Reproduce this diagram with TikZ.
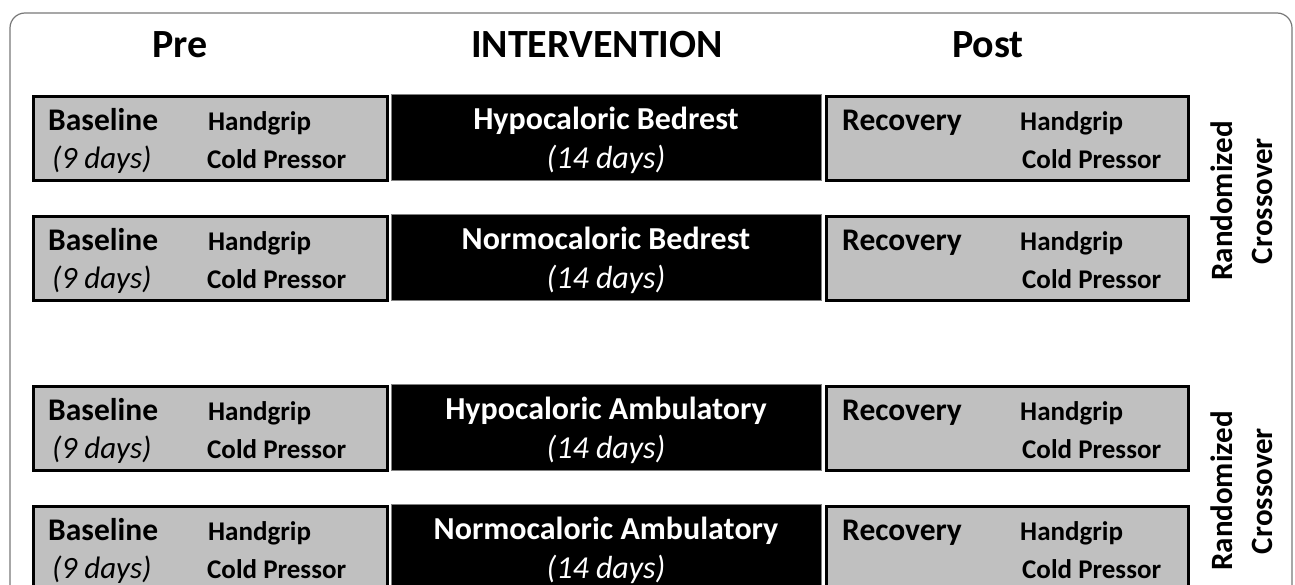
\documentclass[tikz,border=0pt]{standalone}
\usepackage{fontspec}
\setmainfont{Carlito}
\usepackage{tikz}
\usetikzlibrary{positioning}
\definecolor{boxgray}{RGB}{192,192,192}
\definecolor{framegray}{RGB}{120,120,120}
\tikzstyle{phase} = [rectangle, draw=black, line width=3pt, fill=boxgray, minimum height=84pt, inner sep=0pt, anchor=north west]
\tikzstyle{treat} = [rectangle, draw=gray, line width=1pt, fill=black, text=white, minimum width=430pt, minimum height=86pt, anchor=north west, align=center, font=\fontsize{32}{39}\selectfont]
\tikzstyle{head} = [font=\fontsize{40}{42}\selectfont\bfseries, inner sep=0pt, anchor=base]
\tikzstyle{phasename} = [font=\fontsize{31.5}{36}\selectfont\bfseries, inner sep=0pt, anchor=base west]
\tikzstyle{days} = [font=\fontsize{31}{36}\selectfont\itshape, inner sep=0pt, anchor=base west]
\tikzstyle{task} = [font=\fontsize{27}{30}\selectfont\bfseries, inner sep=0pt, anchor=base west]
\tikzstyle{cross} = [font=\fontsize{31}{40}\selectfont\bfseries, rotate=90, align=center, inner sep=0pt]

\begin{document}
\begin{tikzpicture}[x=1pt, y=-1pt]
		\clip (0,0) rectangle (1295,584);
		\fill[white] (0,0) rectangle (1295,584);
		\draw[framegray, line width=1.2pt, rounded corners=15pt] (10,13) rectangle (1292,640);
		% Headers
		\node [head] (pre) at (180,57) {Pre};
		\node [head] (inter) at (597,57) {INTERVENTION};
		\node [head] (post) at (988,57) {Post};
		% Row 1
		\node [phase, minimum width=354pt] (base1) at (31.5,94.5) {};
		\node [treat] (hypobed) at (390.5,93.5) {\rule{0pt}{30pt}\textbf{Hypocaloric Bedrest}\\\textit{(14 days)}};
		\node [phase, minimum width=362pt] (rec1) at (824.5,94.5) {};
		\node [phasename] (b1name) at (48,130) {Baseline};
		\node [days] (b1days) at (52,168) {(9 days)};
		\node [task] (b1hand) at (208,130) {Handgrip};
		\node [task] (b1cold) at (207,168) {Cold Pressor};
		\node [phasename] (r1name) at (842,130) {Recovery};
		\node [task] (r1hand) at (1020,130) {Handgrip};
		\node [task] (r1cold) at (1022,168) {Cold Pressor};
		% Row 2
		\node [phase, minimum width=354pt] (base2) at (31.5,214.5) {};
		\node [treat] (normobed) at (390.5,213.5) {\rule{0pt}{30pt}\textbf{Normocaloric Bedrest}\\\textit{(14 days)}};
		\node [phase, minimum width=362pt] (rec2) at (824.5,214.5) {};
		\node [phasename] (b2name) at (48,250) {Baseline};
		\node [days] (b2days) at (52,288) {(9 days)};
		\node [task] (b2hand) at (208,250) {Handgrip};
		\node [task] (b2cold) at (207,288) {Cold Pressor};
		\node [phasename] (r2name) at (842,250) {Recovery};
		\node [task] (r2hand) at (1020,250) {Handgrip};
		\node [task] (r2cold) at (1022,288) {Cold Pressor};
		% Row 3
		\node [phase, minimum width=354pt] (base3) at (31.5,384.5) {};
		\node [treat] (hypoamb) at (390.5,383.5) {\rule{0pt}{30pt}\textbf{Hypocaloric Ambulatory}\\\textit{(14 days)}};
		\node [phase, minimum width=362pt] (rec3) at (824.5,384.5) {};
		\node [phasename] (b3name) at (48,420) {Baseline};
		\node [days] (b3days) at (52,458) {(9 days)};
		\node [task] (b3hand) at (208,420) {Handgrip};
		\node [task] (b3cold) at (207,458) {Cold Pressor};
		\node [phasename] (r3name) at (842,420) {Recovery};
		\node [task] (r3hand) at (1020,420) {Handgrip};
		\node [task] (r3cold) at (1022,458) {Cold Pressor};
		% Row 4
		\node [phase, minimum width=354pt] (base4) at (31.5,504.5) {};
		\node [treat] (normoamb) at (390.5,503.5) {\rule{0pt}{30pt}\textbf{Normocaloric Ambulatory}\\\textit{(14 days)}};
		\node [phase, minimum width=362pt] (rec4) at (824.5,504.5) {};
		\node [phasename] (b4name) at (48,540) {Baseline};
		\node [days] (b4days) at (52,578) {(9 days)};
		\node [task] (b4hand) at (208,540) {Handgrip};
		\node [task] (b4cold) at (207,578) {Cold Pressor};
		\node [phasename] (r4name) at (842,540) {Recovery};
		\node [task] (r4hand) at (1020,540) {Handgrip};
		\node [task] (r4cold) at (1022,578) {Cold Pressor};
		% Crossover labels
		\node [cross] (cross1) at (1242,201) {Randomized\\Crossover};
		\node [cross] (cross2) at (1242,491) {Randomized\\Crossover};
	\end{tikzpicture}
\end{document}
